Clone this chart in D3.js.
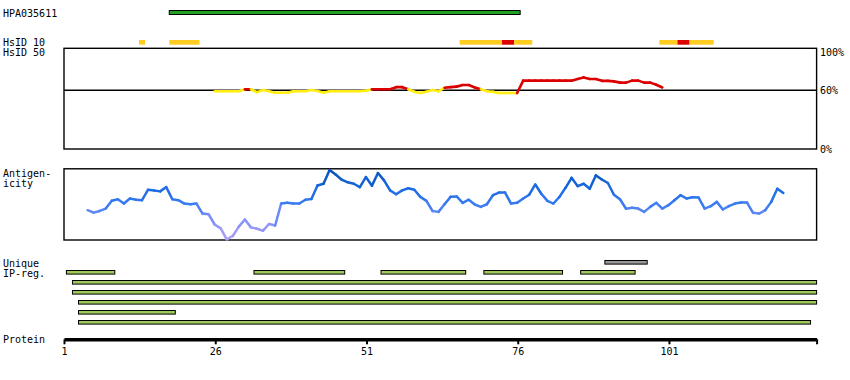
<!DOCTYPE html>
<html>
<head>
<meta charset="utf-8">
<script src="https://cdn.jsdelivr.net/npm/d3@7"></script>
<style>
  html, body { margin: 0; padding: 0; background: #fff; }
  svg text { font-family: "DejaVu Sans Mono", monospace; font-size: 10px; fill: #000; }
</style>
</head>
<body>
<svg id="chart" width="850" height="380"></svg>
<script>
// ---------------- data ----------------
const proteinLength = 125;
const axisTicks = [1, 26, 51, 76, 101];

const antibodyName = "HPA035611";
const antibodyRange = [19, 76];

// HsID 10 coverage segments: [start, end, level]
const hsidSegments = [
  [14, 14, "mid"], [19, 23, "mid"],
  [67, 73, "mid"], [74, 75, "high"], [76, 78, "mid"],
  [100, 102, "mid"], [103, 104, "high"], [105, 108, "mid"]
];

// HsID 50 identity (%) from residue 26
const identityStart = 26;
const identityValues = [
  59, 59, 59, 59, 59, 61, 61, 58, 60.3, 59,
  57.5, 57.5, 57.5, 59, 59, 59, 60.3, 59.3, 57.5, 59,
  59, 59, 59, 59, 59, 59.5, 61, 61, 61, 61,
  63, 63, 61, 58.5, 57.2, 58.5, 60.3, 59, 62.5, 63,
  63.5, 65, 65, 62.7, 61, 59, 58.4, 57.2, 57.2, 57.2,
  57.2, 69.2, 69.2, 69.2, 69.2, 69.2, 69.2, 69.2, 69.2, 69.2,
  70.8, 72.3, 70.8, 70.8, 69, 69, 68.5, 67.3, 67.3, 69.2,
  69.2, 67.3, 67.3, 65.3, 62.7
];
const identityTicks = [100, 60, 0];

// Antigenicity from residue 5
const antigenStart = 5;
const antigenValues = [
  -0.25, -0.35, -0.28, -0.18, 0.15, 0.21, 0.03, 0.24, 0.19, 0.17,
  0.61, 0.58, 0.54, 0.72, 0.21, 0.17, 0.03, 0.00, 0.03, -0.39,
  -0.42, -0.85, -1.01, -1.47, -1.33, -0.94, -0.64, -0.97, -1.03, -1.11,
  -0.83, -0.89, 0.03, 0.06, 0.03, 0.03, 0.19, 0.22, 0.79, 0.86,
  1.44, 1.25, 1.03, 0.92, 0.86, 0.72, 1.14, 0.78, 1.31, 1.00,
  0.58, 0.42, 0.58, 0.67, 0.61, 0.31, 0.14, -0.28, -0.32, 0.00,
  0.31, 0.33, 0.06, 0.19, -0.01, -0.11, 0.00, 0.38, 0.49, 0.49,
  0.03, 0.06, 0.24, 0.40, 0.83, 0.44, 0.14, 0.03, 0.31, 0.69,
  1.11, 0.76, 0.86, 0.65, 1.21, 1.04, 0.89, 0.40, 0.21, -0.19,
  -0.15, -0.18, -0.32, -0.11, 0.06, -0.18, -0.04, 0.17, 0.38, 0.24,
  0.29, 0.28, -0.18, -0.08, 0.10, -0.22, -0.08, 0.03, 0.07, 0.07,
  -0.36, -0.39, -0.25, 0.10, 0.65, 0.47
];

// Unique IP regions: rows of [start, end, kind]
const uniqueRows = [
  [[91, 97, "other"]],
  [[2, 9, "ip"], [33, 47, "ip"], [54, 67, "ip"], [71, 83, "ip"], [87, 95, "ip"]],
  [[3, 125, "ip"]],
  [[3, 125, "ip"]],
  [[4, 125, "ip"]],
  [[4, 19, "ip"]],
  [[4, 124, "ip"]]
];

// ---------------- drawing ----------------
const svg = d3.select("#chart");
const x = d3.scaleLinear().domain([1, proteinLength + 0.4]).range([64, 816.6]);
const segX0 = s => x(s - 0.6);
const segX1 = e => x(e + 0.4);
const ptX = r => x(r - 0.1);

// left labels
const leftLabels = [
  [antibodyName, 17], ["HsID 10", 46], ["HsID 50", 56],
  ["Antigen-", 177], ["icity", 187], ["Unique", 267], ["IP-reg.", 277], ["Protein", 343]
];
svg.append("g").selectAll("text").data(leftLabels).join("text")
  .attr("x", 3).attr("y", d => d[1]).text(d => d[0]);

// antibody bar
svg.append("rect")
  .attr("x", segX0(antibodyRange[0])).attr("y", 10.5)
  .attr("width", segX1(antibodyRange[1]) - segX0(antibodyRange[0])).attr("height", 4)
  .attr("fill", "#22a022").attr("stroke", "#000").attr("stroke-width", 1);

// HsID 10 segments
const hsidColor = { mid: "#ffcc22", high: "#dd0000" };
svg.append("g").selectAll("rect").data(hsidSegments).join("rect")
  .attr("x", d => segX0(d[0])).attr("y", 40)
  .attr("width", d => segX1(d[1]) - segX0(d[0])).attr("height", 4.7)
  .attr("fill", d => hsidColor[d[2]]);

// identity panel
const yId = d3.scaleLinear().domain([0, 60, 100]).range([149, 90.3, 48.3]);
const idG = svg.append("g");
idG.append("rect").attr("x", x(1)).attr("y", yId(100))
  .attr("width", x(proteinLength + 0.4) - x(1)).attr("height", yId(0) - yId(100))
  .attr("fill", "none").attr("stroke", "#000").attr("stroke-width", 1.4);
idG.append("line").attr("x1", x(1)).attr("x2", x(proteinLength + 0.4))
  .attr("y1", yId(60)).attr("y2", yId(60)).attr("stroke", "#000").attr("stroke-width", 1.4);

const idPts = identityValues.map((v, i) => ({ r: identityStart + i, v }));
const idSegs = d3.pairs(idPts);
idG.append("g").selectAll("line").data(idSegs).join("line")
  .attr("x1", d => ptX(d[0].r)).attr("y1", d => yId(d[0].v))
  .attr("x2", d => ptX(d[1].r)).attr("y2", d => yId(d[1].v))
  .attr("stroke", d => (Math.min(d[0].v, d[1].v) >= 60.5 || d[1].v >= 65) ? "#dd0000" : "#ffee11")
  .attr("stroke-width", 2.6).attr("stroke-linecap", "round");

const idLabelY = { 100: 56, 60: 93.6, 0: 153 };
idG.append("g").selectAll("text").data(identityTicks).join("text")
  .attr("x", 820).attr("y", d => idLabelY[d])
  .text(d => d + "%");

// antigenicity panel
const yAg = d3.scaleLinear().domain([-1.5, 1.5]).range([240, 168.5]);
const agColor = d3.scaleLinear()
  .domain([-1.5, -0.6, 0, 0.8, 1.5])
  .range(["#b4a4f2", "#7d8ef8", "#3a7cf2", "#1466dd", "#0a4ea6"]);
const agG = svg.append("g");
agG.append("rect").attr("x", x(1)).attr("y", 168.8)
  .attr("width", x(proteinLength + 0.4) - x(1)).attr("height", 71.2)
  .attr("fill", "none").attr("stroke", "#000").attr("stroke-width", 1.4);
const agPts = antigenValues.map((v, i) => ({ r: antigenStart + i, v }));
agG.append("g").selectAll("line").data(d3.pairs(agPts)).join("line")
  .attr("x1", d => ptX(d[0].r)).attr("y1", d => yAg(d[0].v))
  .attr("x2", d => ptX(d[1].r)).attr("y2", d => yAg(d[1].v))
  .attr("stroke", d => agColor((d[0].v + d[1].v) / 2))
  .attr("stroke-width", 2.5).attr("stroke-linecap", "round");

// unique IP regions
const ipFill = { ip: "#9dc85a", other: "#999999" };
const ipG = svg.append("g");
uniqueRows.forEach((row, i) => {
  ipG.append("g").selectAll("rect").data(row).join("rect")
    .attr("x", d => segX0(d[0])).attr("y", 260.5 + i * 10)
    .attr("width", d => segX1(d[1]) - segX0(d[0])).attr("height", 3.6)
    .attr("fill", d => ipFill[d[2]]).attr("stroke", "#000").attr("stroke-width", 1);
});

// protein axis
const axis = d3.axisBottom(x)
  .tickValues(axisTicks.concat([proteinLength + 0.4]))
  .tickFormat(d => axisTicks.includes(d) ? String(d) : "")
  .tickSize(5).tickSizeOuter(0);
const axG = svg.append("g").attr("transform", "translate(0,339.3)").call(axis);
axG.select(".domain").attr("stroke", "#000").attr("stroke-width", 3.4);
axG.selectAll(".tick line").attr("stroke", "#000").attr("stroke-width", 2);
axG.selectAll(".tick text")
  .attr("y", 15.7).attr("dy", 0)
  .style("font-family", "'DejaVu Sans Mono', monospace").style("font-size", "10px").attr("fill", "#000");
</script>
</body>
</html>
